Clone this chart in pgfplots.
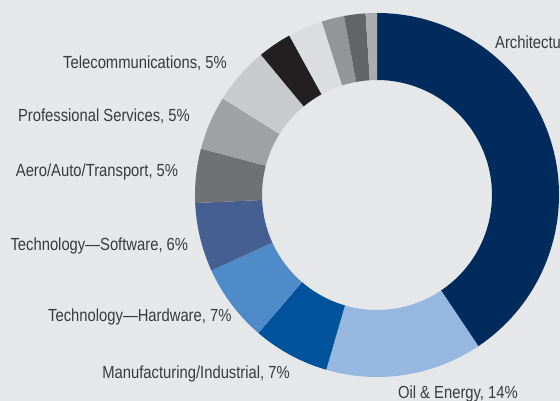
\documentclass[border=0pt]{standalone}
\usepackage{fontspec}
\setmainfont{Liberation Sans}[FakeStretch=0.845]
\usepackage{pgfplots}
\usepackage{pgfplotstable}
\pgfplotsset{compat=1.18}
\definecolor{bgc}{HTML}{E6E7E9}
\definecolor{txt}{HTML}{3A3A3C}
\definecolor{cArch}{HTML}{002B5C}
\definecolor{cOil}{HTML}{95B7E0}
\definecolor{cManu}{HTML}{00539B}
\definecolor{cHard}{HTML}{4F8AC9}
\definecolor{cSoft}{HTML}{465F92}
\definecolor{cAero}{HTML}{707174}
\definecolor{cProf}{HTML}{A0A1A4}
\definecolor{cTele}{HTML}{C9CACC}
\definecolor{cK}{HTML}{231F20}
\definecolor{cLa}{HTML}{DCDDDF}
\definecolor{cGa}{HTML}{939598}
\definecolor{cGb}{HTML}{636466}
\definecolor{cGc}{HTML}{ABACAE}
\newcommand\lblfont{\fontsize{17.5bp}{20bp}\selectfont}
\tikzset{lbl/.style={text=txt,font=\lblfont,inner sep=0pt}}
\pgfplotstableread{
value col
40.6 cArch
13.9 cOil
6.8 cManu
6.9 cHard
6.1 cSoft
4.8 cAero
4.8 cProf
5.1 cTele
3.0 cK
3.1 cLa
2.0 cGa
1.9 cGb
1.0 cGc
}\slices
\begin{document}
\begin{tikzpicture}
\begin{axis}[x=1bp,y=1bp,xmin=0,xmax=560,ymin=0,ymax=401,hide axis,
  clip=true,at={(0,0)},anchor=south west]
\fill[bgc] (axis cs:0,0) rectangle (axis cs:560,401);
\def\astart{90}
\pgfplotsforeachungrouped \i in {0,...,12}{%
  \pgfplotstablegetelem{\i}{value}\of\slices \let\sval=\pgfplotsretval
  \pgfplotstablegetelem{\i}{col}\of\slices \let\scol=\pgfplotsretval
  \pgfmathsetmacro\aend{\astart-3.6*\sval}%
  \edef\tmp{\noexpand\fill[\scol,shift={(axis cs:377,206)}] (\astart:182bp) arc[start angle=\astart,end angle=\aend,radius=182bp] -- (\aend:115bp) arc[start angle=\aend,end angle=\astart,radius=115bp] -- cycle;}%
  \tmp
  \global\let\astart=\aend
}
\node[lbl,anchor=base east] at (axis cs:227,333) {Telecommunications, 5\%};
\node[lbl,anchor=base east] at (axis cs:190,279.3) {Professional Services, 5\%};
\node[lbl,anchor=base east] at (axis cs:178.3,224.3) {Aero/Auto/Transport, 5\%};
\node[lbl,anchor=base east] at (axis cs:188.3,151) {Technology---Software, 6\%};
\node[lbl,anchor=base east] at (axis cs:231.7,79.3) {Technology---Hardware, 7\%};
\node[lbl,anchor=base east] at (axis cs:290,22.7) {Manufacturing/Industrial, 7\%};
\node[lbl,anchor=base east] at (axis cs:518,3) {Oil \& Energy, 14\%};
\node[lbl,anchor=base west] at (axis cs:495,353) {Architecture/Engineering, 40\%};
\end{axis}
\pgfresetboundingbox
\useasboundingbox (0,0) rectangle (560bp,401bp);
\end{tikzpicture}
\end{document}
